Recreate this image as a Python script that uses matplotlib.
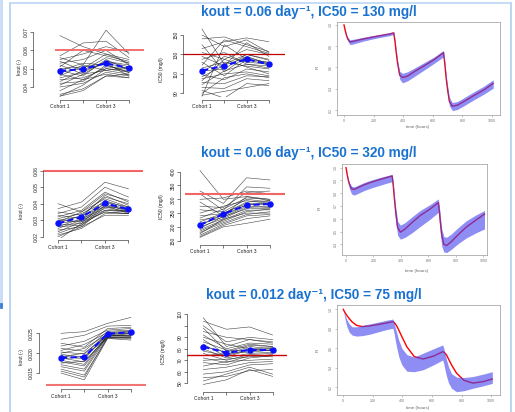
import matplotlib
matplotlib.use('Agg')
import matplotlib.pyplot as plt
from matplotlib.lines import Line2D

W, H = 515, 412
plt.rcParams['font.family'] = ['Liberation Sans', 'DejaVu Sans']

# ---------------- data ----------------
cohorts = [1, 2, 3, 4]
cohort_labels = ['Cohort 1', '', 'Cohort 3', '']

titles = ['kout = 0.06 day\u207b\u00b9, IC50 = 130 mg/l',
          'kout = 0.06 day\u207b\u00b9, IC50 = 320 mg/l',
          'kout = 0.012 day\u207b\u00b9, IC50 = 75 mg/l']

# individual kout / IC50 trajectories per cohort
kout_r1 = [[0.068, 0.062, 0.058, 0.055], [0.057, 0.064, 0.065, 0.056], [0.056, 0.052, 0.071, 0.058],
           [0.055, 0.058, 0.062, 0.059], [0.054, 0.049, 0.056, 0.053], [0.053, 0.055, 0.060, 0.052],
           [0.052, 0.047, 0.054, 0.051], [0.051, 0.060, 0.057, 0.054], [0.050, 0.051, 0.053, 0.050],
           [0.049, 0.046, 0.055, 0.049], [0.049, 0.053, 0.052, 0.048], [0.048, 0.050, 0.058, 0.053],
           [0.047, 0.044, 0.051, 0.050], [0.046, 0.052, 0.049, 0.047], [0.045, 0.048, 0.054, 0.052],
           [0.044, 0.045, 0.050, 0.049], [0.043, 0.049, 0.053, 0.046], [0.042, 0.043, 0.052, 0.048],
           [0.041, 0.047, 0.049, 0.051], [0.040, 0.042, 0.048, 0.046], [0.038, 0.044, 0.047, 0.045],
           [0.036, 0.039, 0.046, 0.047], [0.035, 0.041, 0.050, 0.048], [0.035, 0.038, 0.046, 0.045]]
kout_r1_mean = [0.0487, 0.0498, 0.0529, 0.0504]

ic50_r1 = [[156, 120, 130, 125], [150, 138, 145, 132], [146, 148, 140, 133], [140, 112, 128, 120],
           [136, 143, 147, 143], [132, 125, 135, 130], [128, 118, 142, 128], [125, 132, 120, 118],
           [122, 108, 125, 122], [119, 145, 138, 131], [116, 122, 118, 115], [113, 115, 130, 124],
           [111, 128, 122, 120], [109, 104, 115, 112], [107, 119, 127, 121], [105, 110, 112, 108],
           [103, 125, 117, 110], [101, 100, 108, 107], [99, 113, 120, 116], [96, 95, 105, 103],
           [93, 85, 100, 98], [90, 106, 110, 106], [87, 140, 125, 119], [88, 92, 96, 100]]
ic50_r1_mean = [113.3, 118.4, 125.0, 119.8]

kout_r2 = [[0.040, 0.035, 0.046, 0.042], [0.037, 0.041, 0.053, 0.049], [0.035, 0.033, 0.044, 0.040],
           [0.034, 0.038, 0.050, 0.044], [0.033, 0.031, 0.042, 0.037], [0.032, 0.036, 0.047, 0.041],
           [0.031, 0.034, 0.041, 0.038], [0.030, 0.032, 0.045, 0.039], [0.030, 0.029, 0.039, 0.036],
           [0.029, 0.035, 0.043, 0.038], [0.028, 0.030, 0.040, 0.035], [0.028, 0.033, 0.038, 0.037],
           [0.027, 0.028, 0.041, 0.036], [0.026, 0.031, 0.037, 0.035], [0.026, 0.027, 0.039, 0.034],
           [0.025, 0.030, 0.036, 0.036], [0.024, 0.026, 0.038, 0.035], [0.023, 0.029, 0.035, 0.034],
           [0.022, 0.027, 0.036, 0.035], [0.021, 0.025, 0.034, 0.034], [0.020, 0.026, 0.033, 0.033],
           [0.018, 0.028, 0.035, 0.034]]
kout_r2_mean = [0.0281, 0.0319, 0.0402, 0.0366]

ic50_r2 = [[404, 300, 310, 295], [330, 285, 378, 370], [320, 260, 345, 340], [300, 305, 330, 320],
           [290, 240, 310, 300], [275, 270, 325, 330], [262, 255, 300, 290], [250, 275, 295, 285],
           [240, 248, 290, 295], [232, 265, 305, 300], [225, 240, 280, 288], [218, 250, 285, 280],
           [212, 235, 275, 270], [205, 245, 280, 285], [200, 230, 270, 275], [195, 238, 265, 268],
           [190, 225, 260, 262], [185, 220, 255, 265], [180, 215, 245, 255], [175, 228, 250, 250],
           [170, 210, 240, 245], [165, 205, 230, 240], [162, 200, 213, 228]]
ic50_r2_mean = [207, 246.7, 279, 283]

kout_r3 = [[0.0250, 0.0254, 0.0275, 0.0290], [0.0235, 0.0245, 0.0268, 0.0270], [0.0225, 0.0215, 0.0262, 0.0265],
           [0.0218, 0.0230, 0.0258, 0.0262], [0.0212, 0.0205, 0.0255, 0.0258], [0.0207, 0.0222, 0.0252, 0.0256],
           [0.0203, 0.0198, 0.0250, 0.0252], [0.0200, 0.0212, 0.0248, 0.0255], [0.0197, 0.0190, 0.0246, 0.0250],
           [0.0194, 0.0185, 0.0252, 0.0248], [0.0191, 0.0200, 0.0244, 0.0246], [0.0188, 0.0178, 0.0242, 0.0250],
           [0.0185, 0.0192, 0.0240, 0.0244], [0.0182, 0.0172, 0.0247, 0.0242], [0.0178, 0.0168, 0.0243, 0.0245],
           [0.0175, 0.0180, 0.0239, 0.0240], [0.0171, 0.0160, 0.0245, 0.0243], [0.0166, 0.0155, 0.0241, 0.0238],
           [0.0160, 0.0145, 0.0238, 0.0236], [0.0155, 0.0140, 0.0240, 0.0240], [0.0150, 0.0133, 0.0237, 0.0233]]
kout_r3_mean = [0.01886, 0.01904, 0.0249, 0.02525]

ic50_r3 = [[107, 82, 88, 85], [104, 97, 99, 92], [100, 86, 90, 88], [98, 78, 84, 82], [95, 90, 88, 86],
           [92, 80, 85, 84], [90, 84, 80, 81], [88, 75, 82, 80], [86, 79, 78, 79], [84, 73, 79, 80],
           [82, 77, 83, 82], [80, 72, 76, 77], [78, 74, 80, 78], [76, 70, 75, 76], [74, 76, 77, 79],
           [72, 68, 74, 73], [70, 71, 73, 75], [68, 66, 72, 74], [65, 69, 70, 71], [62, 64, 68, 69],
           [58, 60, 66, 67], [55, 56, 61, 62], [52, 58, 64, 58], [49, 53, 62, 56]]
ic50_r3_mean = [81.8, 76.6, 79.0, 79.0]

# response over time: typical curve (red) and prediction band
time_h = [0, 8, 16, 25, 40, 60, 90, 130, 180, 240, 300, 336, 344, 352, 361, 376, 396, 430, 480, 540,
          610, 672, 680, 688, 697, 712, 732, 766, 816, 876, 946, 1008]

resp_r1 = [1.00, 0.95, 0.905, 0.87, 0.84, 0.845, 0.855, 0.868, 0.882, 0.898, 0.913, 0.925, 0.85, 0.75,
           0.65, 0.53, 0.505, 0.52, 0.565, 0.615, 0.675, 0.74, 0.65, 0.53, 0.42, 0.28, 0.235, 0.245,
           0.285, 0.335, 0.39, 0.45]
hi_r1 = [1.00, 0.955, 0.915, 0.885, 0.86, 0.865, 0.873, 0.884, 0.897, 0.911, 0.925, 0.937, 0.865, 0.77,
         0.675, 0.565, 0.545, 0.56, 0.598, 0.645, 0.70, 0.76, 0.675, 0.56, 0.455, 0.32, 0.27, 0.28,
         0.32, 0.37, 0.425, 0.485]
lo_r1 = [1.00, 0.94, 0.89, 0.85, 0.815, 0.82, 0.832, 0.848, 0.864, 0.882, 0.897, 0.91, 0.83, 0.725,
         0.62, 0.49, 0.455, 0.475, 0.52, 0.575, 0.64, 0.70, 0.615, 0.49, 0.38, 0.24, 0.195, 0.205,
         0.245, 0.295, 0.35, 0.405]

resp_r2 = [1.00, 0.95, 0.905, 0.87, 0.835, 0.83, 0.845, 0.865, 0.885, 0.905, 0.924, 0.935, 0.86, 0.76,
           0.66, 0.53, 0.495, 0.52, 0.57, 0.625, 0.675, 0.726, 0.655, 0.56, 0.47, 0.40, 0.39, 0.42,
           0.475, 0.535, 0.59, 0.637]
hi_r2 = [1.00, 0.955, 0.915, 0.885, 0.855, 0.85, 0.864, 0.883, 0.902, 0.921, 0.938, 0.948, 0.88, 0.79,
         0.70, 0.58, 0.55, 0.57, 0.615, 0.665, 0.71, 0.755, 0.69, 0.605, 0.52, 0.46, 0.455, 0.48,
         0.53, 0.585, 0.63, 0.665]
lo_r2 = [1.00, 0.935, 0.88, 0.835, 0.795, 0.785, 0.80, 0.82, 0.84, 0.86, 0.88, 0.89, 0.81, 0.69,
         0.58, 0.47, 0.44, 0.455, 0.49, 0.54, 0.595, 0.65, 0.575, 0.47, 0.385, 0.34, 0.335, 0.36,
         0.405, 0.45, 0.49, 0.52]

resp_r3 = [1.00, 0.975, 0.955, 0.935, 0.905, 0.87, 0.835, 0.822, 0.83, 0.845, 0.862, 0.873, 0.865, 0.85,
           0.83, 0.785, 0.72, 0.615, 0.515, 0.49, 0.52, 0.565, 0.56, 0.55, 0.535, 0.49, 0.43, 0.345,
           0.272, 0.243, 0.258, 0.285]
hi_r3 = [1.00, 0.96, 0.925, 0.89, 0.85, 0.82, 0.82, 0.835, 0.85, 0.87, 0.89, 0.90, 0.86, 0.81,
         0.76, 0.68, 0.60, 0.535, 0.51, 0.55, 0.595, 0.634, 0.60, 0.55, 0.49, 0.41, 0.34, 0.305,
         0.30, 0.31, 0.335, 0.36]
lo_r3 = [1.00, 0.93, 0.87, 0.82, 0.765, 0.735, 0.725, 0.73, 0.745, 0.77, 0.795, 0.805, 0.75, 0.68,
         0.61, 0.51, 0.43, 0.365, 0.36, 0.38, 0.43, 0.48, 0.44, 0.38, 0.32, 0.245, 0.19, 0.155,
         0.165, 0.19, 0.215, 0.24]


def box(x0, y0, x1, y1):
    # pixel rectangle (top-left origin) -> figure fraction
    return [x0 / W, 1 - y1 / H, (x1 - x0) / W, (y1 - y0) / H]


fig = plt.figure(figsize=(W / 100, H / 100), dpi=100)
fig.patch.set_facecolor('white')


def spaghetti(rect, lines, mean, ref, xlim, ylim, yticks, ylabs, refc, reflw, loff, boff):
    ax = fig.add_axes(box(*rect))
    ax.patch.set_alpha(0)
    for ln in lines:
        ax.plot(cohorts, ln, color='#222222', lw=0.4, alpha=0.85)
    ax.axhline(ref, color=refc, lw=reflw)
    ax.plot(cohorts, mean, color='#0a10ff', lw=1.5, ls=(0, (3, 1.6)), marker='o', ms=3.6,
            clip_on=False, zorder=5)
    ax.set_xlim(xlim)
    ax.set_ylim(ylim)
    for s in ['top', 'right']:
        ax.spines[s].set_visible(False)
    for s in ['left', 'bottom']:
        ax.spines[s].set_linewidth(0.5)
        ax.spines[s].set_color('#444444')
    ax.spines['left'].set_position(('outward', loff))
    ax.spines['left'].set_bounds(yticks[0], yticks[-1])
    ax.spines['bottom'].set_position(('outward', boff))
    ax.spines['bottom'].set_bounds(1, 4)
    ax.set_xticks(cohorts)
    ax.set_xticklabels(cohort_labels)
    ax.set_yticks(yticks)
    ax.set_yticklabels(ylabs, rotation=90, va='center')
    ax.tick_params(labelsize=3.6, length=2, width=0.5, pad=1.2, color='#444444', labelcolor='#222222')
    return ax


def response(rect, resp, lo, hi, xlim, ylim, yticks, ylabs):
    ax = fig.add_axes(box(*rect))
    ax.plot(time_h, resp, color='#ff0000', lw=1.0, zorder=2)
    # translucent band drawn over the typical curve (red turns purple inside the band)
    ax.fill_between(time_h, lo, hi, color='#4848ee', alpha=0.62, lw=0, zorder=3)
    ax.set_xlim(xlim)
    ax.set_ylim(ylim)
    for s in ax.spines.values():
        s.set_linewidth(0.5)
        s.set_color('#999999')
    ax.set_xticks([0, 200, 400, 600, 800, 1000])
    ax.set_yticks(yticks)
    ax.set_yticklabels(ylabs, rotation=90, va='center')
    ax.tick_params(labelsize=2.6, length=1.5, width=0.4, pad=1.5, color='#999999', labelcolor='#777777')
    return ax


def ylab(x, y, s, size=3.6, color='#222222'):
    fig.text(x / W, 1 - y / H, s, rotation=90, ha='center', va='center', fontsize=size, color=color)


def xlab(x, y, s):
    fig.text(x / W, 1 - y / H, s, ha='center', va='center', fontsize=3.2, color='#666666')


title_color = '#1a72d0'
for (tx, ty), t in zip([(308.5, 12), (308.5, 153), (313.5, 295)], titles):
    fig.text(tx / W, 1 - ty / H, t, ha='center', va='center', fontsize=9.8,
             weight='bold', color=title_color)

# ---- row 1 ----
spaghetti((55, 27, 144, 97), kout_r1, kout_r1_mean, 0.06, (0.783, 4.652), (0.03454, 0.07273),
          [0.04, 0.05, 0.06, 0.07], ['0.04', '0.05', '0.06', '0.07'], '#f26565', 1.3, 16, 2)
ylab(20, 67, 'kout (-)')
spaghetti((183, 27, 285, 97), ic50_r1, ic50_r1_mean, 130, (0.148, 4.722), (86.2, 158.2),
          [90, 110, 130, 150], ['90', '110', '130', '150'], '#c00000', 0.9, 0, 2)
ylab(162, 70, 'IC50 (mg/l)')
response((337, 22, 500, 115), resp_r1, lo_r1, hi_r1, (-47.3, 1054), (0.153, 1.028),
         [0.2, 0.4, 0.6, 0.8, 1.0], ['0.2', '0.4', '0.6', '0.8', '1.0'])
ylab(318, 67, 'R', size=3.2, color='#666666')
xlab(418, 127, 'time (hours)')

# ---- row 2 ----
spaghetti((43, 168, 143, 238), kout_r2, kout_r2_mean, 0.06, (0.362, 4.617), (0.01921, 0.06164),
          [0.02, 0.03, 0.04, 0.05, 0.06], ['0.02', '0.03', '0.04', '0.05', '0.06'], '#f26565', 1.5, 0, 1.5)
ylab(21.7, 211, 'kout (-)')
spaghetti((185, 168, 285, 242), ic50_r2, ic50_r2_mean, 320, (0.356, 4.648), (145.3, 413.4),
          [150, 200, 250, 300, 350, 400], ['150', '200', '250', '300', '350', '400'], '#f26565', 1.5, 3.3, 2)
ylab(161, 207, 'IC50 (mg/l)')
response((341.7, 164, 486.7, 255), resp_r2, lo_r2, hi_r2, (-31.3, 1024), (0.316, 1.029),
         [0.4, 0.5, 0.6, 0.7, 0.8, 0.9, 1.0], ['0.4', '0.5', '0.6', '0.7', '0.8', '0.9', '1.0'])
ylab(320, 208, 'R', size=3.2, color='#666666')
xlab(416.7, 271, 'time (hours)')

# ---- row 3 ----
spaghetti((46, 315, 146, 386), kout_r3, kout_r3_mean, 0.012, (0.356, 4.648), (0.01175, 0.0296),
          [0.015, 0.020, 0.025], ['0.015', '0.020', '0.025'], '#f27575', 1.5, 5.3, 2.3)
ylab(21.7, 356.7, 'kout (-)')
spaghetti((187, 312, 287, 386), ic50_r3, ic50_r3_mean, 75, (0.294, 4.623), (47.65, 112),
          [50, 60, 70, 80, 90, 100, 110], ['50', '60', '70', '80', '90', '', '110'], '#d00000', 1.0, 0, 4)
ylab(164, 351.7, 'IC50 (mg/l)')
response((337.3, 305, 500, 395), resp_r3, lo_r3, hi_r3, (-40.6, 1060), (0.121, 1.044),
         [0.2, 0.4, 0.6, 0.8, 1.0], ['0.2', '0.4', '0.6', '0.8', '1.0'])
ylab(318, 350, 'R', size=3.2, color='#666666')
xlab(418, 407.7, 'time (hours)')

# slide frame lines
frame = '#bcd6f3'
fig.add_artist(Line2D([9.5 / W, 9.5 / W], [0, 1 - 3 / H], color=frame, lw=1.4))
fig.add_artist(Line2D([9.5 / W, 511 / W], [1 - 3 / H, 1 - 3 / H], color=frame, lw=1.2))
fig.add_artist(Line2D([511 / W, 511 / W], [0, 1 - 3 / H], color=frame, lw=1.4))
fig.add_artist(Line2D([1 / W, 1 / W], [1 - 305 / H, 1], color='#c6dcf5', lw=2))
fig.add_artist(Line2D([1 / W, 1 / W], [1 - 307 / H, 1 - 304 / H], color='#3a7bd5', lw=2))

fig.savefig('out.png', dpi=100)
